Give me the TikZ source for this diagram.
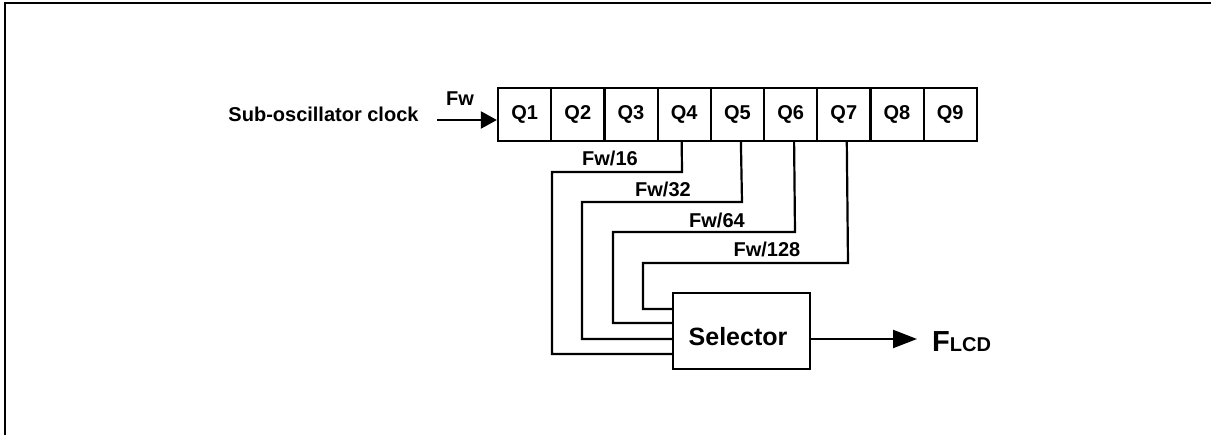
\documentclass[tikz,border=0pt]{standalone}
\usepackage{fontspec}
\setmainfont{Liberation Sans}
\usetikzlibrary{arrows.meta,calc}
\begin{document}
\begin{tikzpicture}[x=1pt,y=-1pt,
  every node/.style={font=\bfseries\fontsize{20}{24}\selectfont, inner sep=0pt},
  wire/.style={line width=2.2pt},
  cell/.style={draw, line width=2.2pt, minimum width=53.2pt, minimum height=53pt},
  selbox/.style={draw, line width=2.2pt, minimum width=137pt, minimum height=76pt},
  inarrow/.style={wire, -{Triangle[length=16pt,width=17pt]}},
  outarrow/.style={wire, -{Triangle[length=24pt,width=18pt]}}]
\useasboundingbox (0,0) rectangle (1211,435);
% frame
\draw[line width=2.5pt] (5,440) -- (5,3) -- (1215,3);
% register
\foreach \i in {1,...,9}{
  \node[cell] (q\i) at ({498+53.2*(\i-0.5)},114.5) {Q\i};
}
% input
\node (src) at (323.5,114.5) {Sub-oscillator clock};
\coordinate (in) at (437,120);
\draw[inarrow] (in) -- (q1.west |- in);
\node (fw) at (460,99) {Fw};
% selector
\node[selbox] (sel) at (741.5,331) {};
\node (seltext) at (738,337) {\fontsize{25}{30}\selectfont Selector};
% taps
\coordinate (t16) at (673,354);
\coordinate (t32) at (673,339);
\coordinate (t64) at (673,323);
\coordinate (t128) at (673,309);
\draw[wire] ([xshift=-2.5pt]q4.south) -- (682,172) -- (552,172) -- (552,354) -- (t16);
\draw[wire] ([xshift=3.5pt]q5.south) -- (742,202) -- (582,202) -- (582,339) -- (t32);
\draw[wire] ([xshift=3.5pt]q6.south) -- (795,232) -- (613,232) -- (613,323) -- (t64);
\draw[wire] ([xshift=3pt]q7.south) -- (848,263) -- (643,263) -- (643,309) -- (t128);
\node (l16) at (610,158) {Fw/16};
\node (l32) at (663,189) {Fw/32};
\node (l64) at (717,220) {Fw/64};
\node (l128) at (767,249) {Fw/128};
% output
\coordinate (o1) at (810,339);
\coordinate (o2) at (917,339);
\draw[outarrow] (o1) -- (o2);
\node[anchor=base west] (flcd) at (932,352) {\fontsize{29}{30}\selectfont F\fontsize{20}{24}\selectfont LCD};
\end{tikzpicture}
\end{document}
